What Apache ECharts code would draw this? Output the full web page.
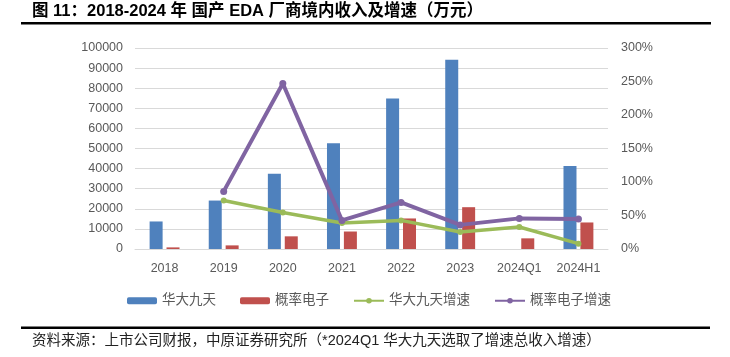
<!DOCTYPE html>
<html>
<head>
<meta charset="utf-8">
<script src="https://cdn.jsdelivr.net/npm/echarts@6/dist/echarts.min.js"></script>
<style>
html,body{margin:0;padding:0;background:#fff;}
#chart{width:730px;height:357px;}
</style>
</head>
<body>
<div id="chart"></div>
<script>
var categories = ['2018', '2019', '2020', '2021', '2022', '2023', '2024Q1', '2024H1'];
var huadaRevenue = [13700, 24100, 37500, 52600, 74900, 94100, null, 41300];
var gailvRevenue = [800, 1800, 6300, 8700, 15200, 20800, 5300, 13200];
var huadaGrowth = [null, 72.5, 54.6, 38.8, 42.7, 25.4, 32.8, 8.0];
var gailvGrowth = [null, 86, 247, 42.7, 69.5, 36, 45.7, 44.8];
var seriesNames = ['华大九天', '概率电子', '华大九天增速', '概率电子增速'];
var titleText = '图 11：2018-2024 年 国产 EDA 厂商境内收入及增速（万元）';
var sourceText = '资料来源：上市公司财报，中原证券研究所（*2024Q1 华大九天选取了增速总收入增速）';

var latin = '"Liberation Sans", Arial, "Noto Sans CJK SC", sans-serif';
var chart = echarts.init(document.getElementById('chart'), null, {renderer: 'canvas'});
var axisLabelStyle = {color: '#595959', fontSize: 12.5, fontFamily: latin};

chart.setOption({
  animation: false,
  backgroundColor: '#ffffff',
  grid: {left: 135, right: 122, top: 48, bottom: 108, containLabel: false, outerBoundsMode: 'none'},
  legend: {
    left: 122, top: 289,
    itemWidth: 30, itemHeight: 7, itemGap: 24,
    textStyle: {color: '#595959', fontSize: 13.5, fontFamily: latin},
    data: seriesNames
  },
  xAxis: {
    type: 'category',
    data: categories,
    axisTick: {show: false},
    axisLine: {lineStyle: {color: '#d9d9d9'}},
    axisLabel: Object.assign({margin: 13}, axisLabelStyle)
  },
  yAxis: [{
    type: 'value', min: 0, max: 100000, interval: 10000,
    axisLine: {show: false}, axisTick: {show: false},
    splitLine: {lineStyle: {color: '#d9d9d9'}},
    axisLabel: Object.assign({margin: 12, formatter: function (v) { return String(v); }}, axisLabelStyle)
  }, {
    type: 'value', min: 0, max: 300, interval: 50,
    axisLine: {show: false}, axisTick: {show: false},
    splitLine: {show: false},
    axisLabel: Object.assign({margin: 13, formatter: '{value}%'}, axisLabelStyle)
  }],
  series: [{
    name: seriesNames[0], type: 'bar', data: huadaRevenue,
    barWidth: 13, barGap: '30%',
    itemStyle: {color: '#4F81BD'}
  }, {
    name: seriesNames[1], type: 'bar', data: gailvRevenue,
    barWidth: 13, barGap: '30%',
    itemStyle: {color: '#C0504D'}
  }, {
    name: seriesNames[2], type: 'line', yAxisIndex: 1, data: huadaGrowth,
    symbol: 'circle', symbolSize: 6, z: 3,
    lineStyle: {color: '#9BBB59', width: 3.5},
    itemStyle: {color: '#9BBB59'}
  }, {
    name: seriesNames[3], type: 'line', yAxisIndex: 1, data: gailvGrowth,
    symbol: 'circle', symbolSize: 7, z: 4,
    lineStyle: {color: '#8064A2', width: 4},
    itemStyle: {color: '#8064A2'}
  }],
  graphic: [{
    type: 'text', left: 32, top: 3,
    style: {text: titleText, fill: '#000', fontSize: 16.5, fontWeight: 'bold', fontFamily: latin}
  }, {
    type: 'rect', shape: {x: 21, y: 22, width: 690, height: 2.5},
    style: {fill: '#000'}
  }, {
    type: 'rect', shape: {x: 21, y: 326.5, width: 689, height: 2.5},
    style: {fill: '#000'}
  }, {
    type: 'text', left: 32, top: 334,
    style: {text: sourceText, fill: '#222', fontSize: 14.5, fontFamily: latin}
  }]
});
</script>
</body>
</html>
